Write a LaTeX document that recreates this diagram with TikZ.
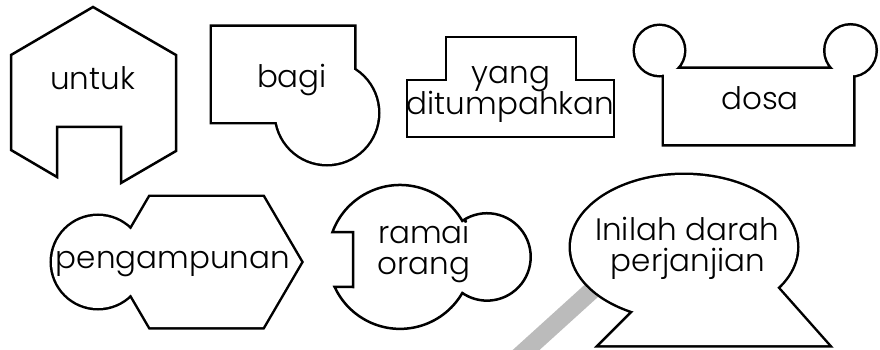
\documentclass[tikz,border=0pt]{standalone}
\usepackage{fontspec}
\setmainfont{Poppins}[UprightFont=* Light]
\begin{document}
\begin{tikzpicture}[x=1pt,y=-1pt,
  rim/.style={black,line width=5pt},
  edge/.style={black,line width=2.5pt,fill=white},
  word/.style={anchor=base,inner sep=0pt,font=\fontsize{31}{36}\selectfont}]
\definecolor{band}{HTML}{BBBBBB}
\useasboundingbox (0,0) rectangle (880,350);
\clip (0,0) rectangle (880,350);
% grey band behind the bubble
\coordinate (band-foot) at (504,370);
\coordinate (band-head) at (600,283);
\draw[band,line width=18pt] (band-foot) -- (band-head);
% untuk
\draw[edge] (93,7) -- (176,55) -- (176,151) -- (121,183) -- (121,127) -- (57,127) -- (57,177) -- (11,150) -- (11,55) -- cycle;
\node[word] (untuk) at (92.5,90) {untuk};
% bagi
\draw[rim] (212,27) rectangle (354,122) (327,113) circle (51);
\fill[white] (212,27) rectangle (354,122);
\fill[white] (327,113) circle (51);
\node[word] (bagi) at (292,88) {bagi};
% yang ditumpahkan
\draw[edge] (407,80) -- (446,80) -- (446,37) -- (576,37) -- (576,80) -- (614,80) -- (614,137) -- (407,137) -- cycle;
\node[word] (yang) at (511,84) {yang};
\node[word] (ditumpahkan) at (510.5,115) {ditumpahkan};
% dosa
\draw[rim] (664,69) rectangle (853,144) (659.5,50.5) circle (24.5) (850.5,50.5) circle (25);
\fill[white] (664,69) rectangle (853,144);
\fill[white] (659.5,50.5) circle (24.5);
\fill[white] (850.5,50.5) circle (25);
\node[word] (dosa) at (760,110) {dosa};
% pengampunan
\draw[rim] (150,197) -- (263,197) -- (301,262) -- (263,327) -- (150,327) -- (112,262) -- cycle (98,262) circle (46);
\fill[white] (150,197) -- (263,197) -- (301,262) -- (263,327) -- (150,327) -- (112,262) -- cycle;
\fill[white] (98,262) circle (46);
\node[word] (pengampunan) at (173,268) {pengampunan};
% ramai orang
\draw[edge] (353,232) -- (332.5,232) arc[start angle=200.3,end angle=329.9,radius=72]
  arc[start angle=235.6,end angle=484.4,radius=43.7]
  arc[start angle=30.1,end angle=155.4,radius=72] -- (353,287) -- cycle;
\node[word] (ramai) at (424,243) {ramai};
\node[word] (orang) at (424,274) {orang};
% speech bubble
\draw[rim] (684,247) ellipse [x radius=113,y radius=72] (600,345) -- (828,345) -- (765,274) -- (645,300) -- cycle;
\fill[white] (684,247) ellipse [x radius=113,y radius=72];
\fill[white] (600,345) -- (828,345) -- (765,274) -- (645,300) -- cycle;
\node[word] (inilah) at (687,240) {Inilah darah};
\node[word] (perjanjian) at (688,271) {perjanjian};
\end{tikzpicture}
\end{document}
